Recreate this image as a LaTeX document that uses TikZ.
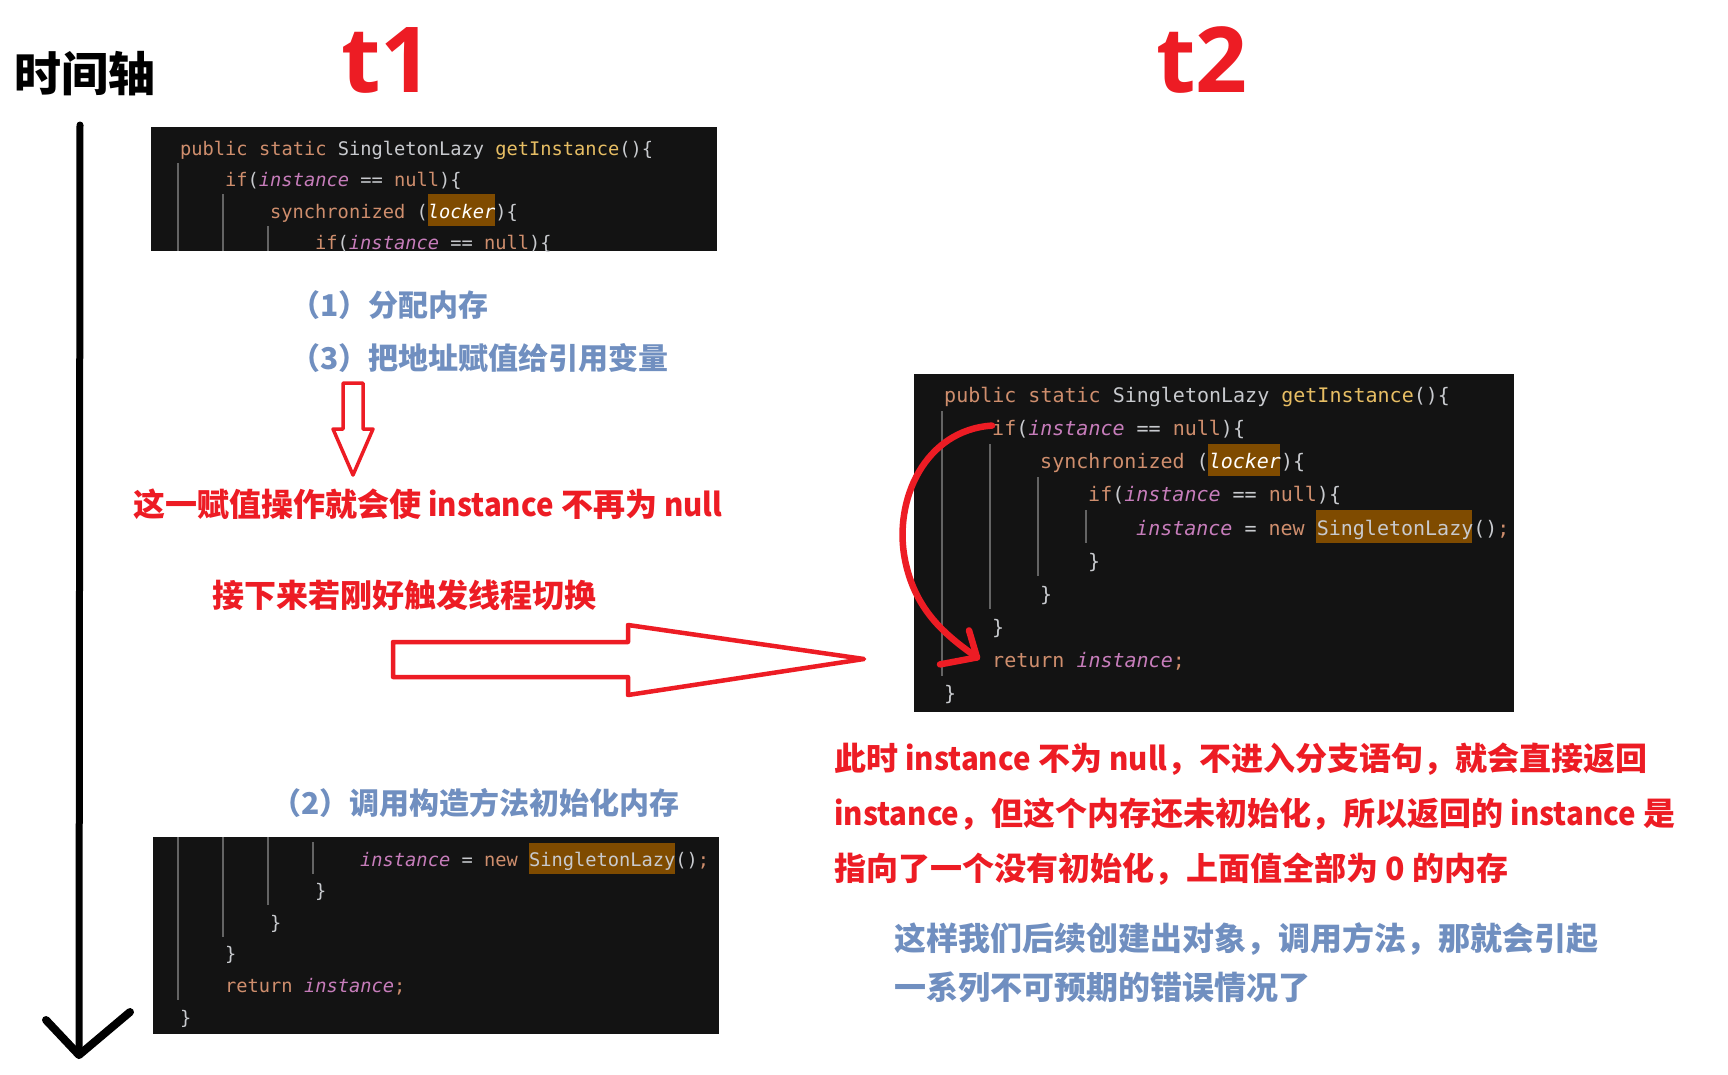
\documentclass[tikz,border=0pt]{standalone}
\usepackage{fontspec}
\usepackage{xcolor}
\usepackage{graphicx}
\usepackage{tikz}
\newfontfamily\cjk{Noto Sans CJK SC}
\newfontfamily\latinsans{Open Sans}
\newfontfamily\mono{DejaVu Sans Mono}
\definecolor{paintred}{RGB}{237,28,36}
\definecolor{noteblue}{RGB}{112,143,192}
\definecolor{ideback}{RGB}{19,19,19}
\definecolor{kworange}{RGB}{207,142,109}
\definecolor{fngold}{RGB}{231,190,100}
\definecolor{fldpurple}{RGB}{199,125,187}
\definecolor{plaintext}{RGB}{200,202,206}
\definecolor{hilite}{RGB}{127,75,0}
\definecolor{guidegray}{RGB}{100,100,100}
\newcommand{\ckw}[1]{\textcolor{kworange}{#1}}
\newcommand{\cfn}[1]{\textcolor{fngold}{#1}}
\newcommand{\cfld}[1]{\textcolor{fldpurple}{\itshape #1}}
\newcommand{\clock}{\textcolor{white}{\itshape locker}}
\newcommand{\lat}[1]{\scalebox{0.92}[1]{#1}}

\begin{document}
\begin{tikzpicture}[x=1pt, y=-1pt,
  redpen/.style={draw=paintred, line width=#1, line cap=round, line join=round}, redpen/.default=4,
  guide/.style={draw=guidegray, line width=1.8},
  hl/.style={fill=hilite},
  codeA/.style={anchor=base west, inner sep=0, text=plaintext, font=\mono\fontsize{18.7}{22}\selectfont},
  codeB/.style={anchor=base west, inner sep=0, text=plaintext, font=\mono\fontsize{20}{24}\selectfont},
  cjktext/.style={anchor=base west, inner sep=0},
  redlabel/.style={cjktext, text=paintred, font=\cjk\bfseries\fontsize{32}{38}\selectfont},
  bluelabel/.style={cjktext, text=noteblue, font=\cjk\bfseries\fontsize{30}{36}\selectfont}]
\path[use as bounding box, fill=white] (0,0) rectangle (1728,1074);

% titles and time axis
\node[cjktext, font=\cjk\bfseries\fontsize{47}{52}\selectfont] (axislbl) at (14,91) {时间轴};
\node[anchor=base, inner sep=0, text=paintred, font=\latinsans\bfseries\fontsize{91}{100}\selectfont] (tone) at (387,92) {t1};
\node[anchor=base, inner sep=0, text=paintred, font=\latinsans\bfseries\fontsize{91}{100}\selectfont] (ttwo) at (1202,92) {t2};
\coordinate (ttop) at (80,125);
\coordinate (tend) at (79,1055);
\draw[line width=7, line cap=round] (ttop) -- (tend);
\draw[line width=8, line cap=round, line join=round] (46,1020) -- (tend) -- (130,1012);

% t1 code, upper part
\fill[ideback] (151,127) rectangle (717,251);
\fill[hl] (428,194) rectangle (495,226);
\draw[guide] (178,163) -- (178,251);
\draw[guide] (223,194) -- (223,251);
\draw[guide] (268,226) -- (268,251);
\begin{scope}
\clip (151,127) rectangle (717,251);
\node[codeA] (a0) at (180,155) {\ckw{public static} SingletonLazy \cfn{getInstance}()\{};
\node[codeA] (a1) at (225,186.5) {\ckw{if}(\cfld{instance} == \ckw{null})\{};
\node[codeA] (a2) at (270,218) {\ckw{synchronized} (\clock)\{};
\node[codeA] (a3) at (315,249.7) {\ckw{if}(\cfld{instance} == \ckw{null})\{};
\end{scope}

\node[bluelabel] (step1) at (290,316.4) {（1）分配内存};
\node[bluelabel] (step3) at (290,369.4) {（3）把地址赋值给引用变量};
\draw[redpen=3.5] (343,383) -- (363,383) -- (363,429) -- (373,429) -- (353,475) -- (333,429) -- (343,429) -- cycle;
\node[redlabel] (assign) at (133,516) {这一赋值操作就会使 \lat{instance} 不再为 \lat{null}};
\node[redlabel] (switch) at (212,607) {接下来若刚好触发线程切换};
\draw[redpen=4.5] (393,642) -- (628,642) -- (628,625) -- (864,659) -- (628,695) -- (628,677) -- (393,677) -- cycle;

% t1 code, lower part
\fill[ideback] (153,837) rectangle (719,1034);
\fill[hl] (529,843) rectangle (675,874);
\draw[guide] (178,837) -- (178,1000);
\draw[guide] (223,837) -- (223,937);
\draw[guide] (268,837) -- (268,905);
\draw[guide] (313,842) -- (313,874);
\node[codeA] (c0) at (360,866) {\cfld{instance} = \ckw{new} SingletonLazy()\ckw{;}};
\node[codeA] (c1) at (315,897.5) {\}};
\node[codeA] (c2) at (270,929) {\}};
\node[codeA] (c3) at (225,960.7) {\}};
\node[codeA] (c4) at (225,992.3) {\ckw{return} \cfld{instance}\ckw{;}};
\node[codeA] (c5) at (180,1024) {\}};
\node[bluelabel] (step2) at (271,814.4) {（2）调用构造方法初始化内存};

% t2 code
\fill[ideback] (914,374) rectangle (1514,712);
\fill[hl] (1208,444) rectangle (1280,476);
\fill[hl] (1316,510) rectangle (1472,543);
\draw[guide] (942,411) -- (942,676);
\draw[guide] (990,444) -- (990,609);
\draw[guide] (1038,477) -- (1038,576);
\draw[guide] (1086,510) -- (1086,543);
\node[codeB] (b0) at (944,402.4) {\ckw{public static} SingletonLazy \cfn{getInstance}()\{};
\node[codeB] (b1) at (992,435.6) {\ckw{if}(\cfld{instance} == \ckw{null})\{};
\node[codeB] (b2) at (1040,468.7) {\ckw{synchronized} (\clock)\{};
\node[codeB] (b3) at (1088,501.9) {\ckw{if}(\cfld{instance} == \ckw{null})\{};
\node[codeB] (b4) at (1136,535) {\cfld{instance} = \ckw{new} SingletonLazy()\ckw{;}};
\node[codeB] (b5) at (1088,568.2) {\}};
\node[codeB] (b6) at (1040,601.3) {\}};
\node[codeB] (b7) at (992,634.5) {\}};
\node[codeB] (b8) at (992,667.6) {\ckw{return} \cfld{instance}\ckw{;}};
\node[codeB] (b9) at (944,700.8) {\}};
\coordinate (jump) at ([xshift=-15pt, yshift=4pt]b8.west);
\draw[redpen=6.5] ([yshift=4pt]b1.west) .. controls (925,430) and (893,500) .. (905,560)
  .. controls (915,610) and (945,635) .. (jump);
\draw[redpen=6.5] (jump) ++(-8,-27) -- (jump) -- ++(-37,7);

% explanation
\node[redlabel] (why1) at (834,770) {此时 \lat{instance} 不为 \lat{null}，不进入分支语句，就会直接返回};
\node[redlabel] (why2) at (834,825) {\lat{instance}，但这个内存还未初始化，所以返回的 \lat{instance} 是};
\node[redlabel] (why3) at (834,880) {指向了一个没有初始化，上面值全部为 0 的内存};
\node[bluelabel, font=\cjk\bfseries\fontsize{32}{38}\selectfont] (risk1) at (894,950) {这样我们后续创建出对象，调用方法，那就会引起};
\node[bluelabel, font=\cjk\bfseries\fontsize{32}{38}\selectfont] (risk2) at (894,999) {一系列不可预期的错误情况了};
\end{tikzpicture}
\end{document}
